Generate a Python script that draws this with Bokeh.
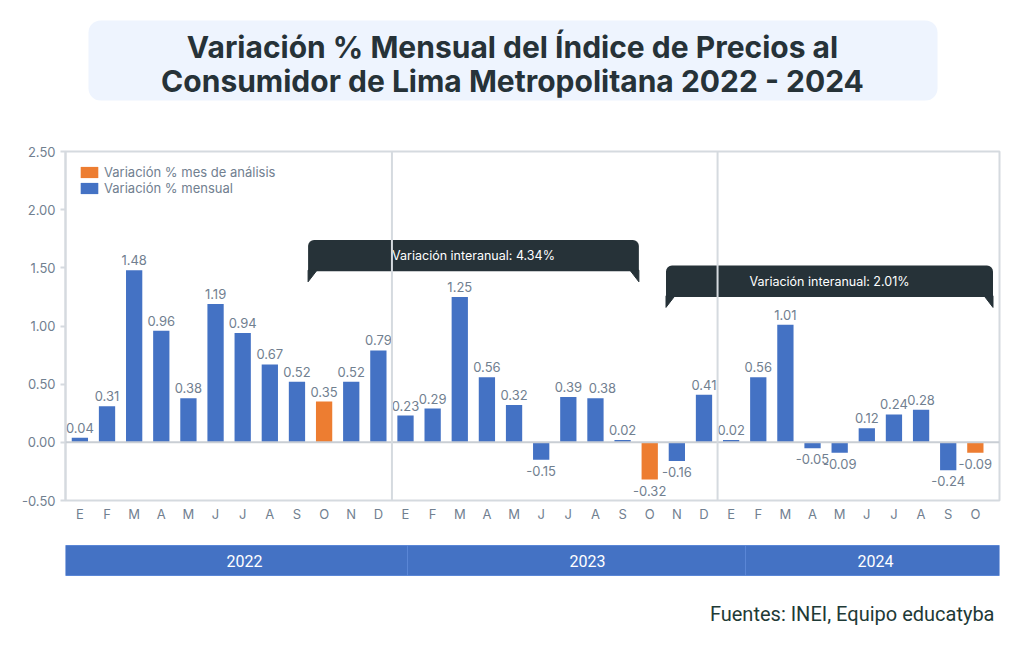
from bokeh.plotting import figure
from bokeh.layouts import column
from bokeh.models import Range1d, FixedTicker, ColumnDataSource, Legend, LegendItem, Span, NumeralTickFormatter
from bokeh.core.properties import value
from bokeh.embed import file_html
from bokeh.resources import INLINE

# ---------------- data ----------------
years = ["2022", "2023", "2024"]
months = ["E", "F", "M", "A", "M", "J", "J", "A", "S", "O", "N", "D"]
v2022 = [0.04, 0.31, 1.48, 0.96, 0.38, 1.19, 0.94, 0.67, 0.52, 0.35, 0.52, 0.79]
v2023 = [0.23, 0.29, 1.25, 0.56, 0.32, -0.15, 0.39, 0.38, 0.02, -0.32, -0.16, 0.41]
v2024 = [0.02, 0.56, 1.01, -0.05, -0.09, 0.12, 0.24, 0.28, -0.24, -0.09]
analysis_month = "O"
interanual_labels = ["Variación interanual: 4.34%", "Variación interanual: 2.01%"]
y_ticks = [-0.5, 0.0, 0.5, 1.0, 1.5, 2.0, 2.5]

title_lines = ["Variación % Mensual del Índice de Precios al",
               "Consumidor de Lima Metropolitana 2022 - 2024"]
source_text = "Fuentes: INEI, Equipo educatyba"
legend_labels = ["Variación % mes de análisis", "Variación % mensual"]

BLUE = "#4472C4"
ORANGE = "#ED7D31"
GRAY_TXT = "#718090"
LINE = "#D5DADF"
DARK = "#263238"
FONT = "Inter"

all_vals = v2022 + v2023 + v2024
all_month = (months + months + months[:len(v2024)])
xs = list(range(len(all_vals)))
is_hl = [(i % 12) == months.index(analysis_month) for i in xs]

# nudge a label sideways when it would collide with its left neighbour
nudge = [0] + [7 if abs(all_vals[i] - all_vals[i - 1]) < 0.02 else 0 for i in xs[1:]]

hl = dict(x=[x for x, h in zip(xs, is_hl) if h], top=[v for v, h in zip(all_vals, is_hl) if h])
nm = dict(x=[x for x, h in zip(xs, is_hl) if not h], top=[v for v, h in zip(all_vals, is_hl) if not h])
pos = dict(x=[x for x, v in zip(xs, all_vals) if v >= 0],
           y=[v for v in all_vals if v >= 0],
           t=["%.2f" % v for v in all_vals if v >= 0],
           dx=[d for d, v in zip(nudge, all_vals) if v >= 0])
neg = dict(x=[x for x, v in zip(xs, all_vals) if v < 0],
           y=[v for v in all_vals if v < 0],
           t=["%.2f" % v for v in all_vals if v < 0],
           dx=[d for d, v in zip(nudge, all_vals) if v < 0])

BL, BR = 65, 25   # borders shared by all stacked figures (frames are aligned)
PX = Range1d(BL, 1024 - BR)  # page-pixel x range for title/band figures

# ---------------- title ----------------
t = figure(width=1024, height=120, x_range=PX, y_range=Range1d(120, 0),
           output_backend="svg", toolbar_location=None,
           min_border_left=BL, min_border_right=BR, min_border_top=0, min_border_bottom=0,
           x_axis_location=None, y_axis_location=None)
t.grid.visible = False
t.outline_line_color = None
t.quad(left=[88], right=[937], top=[20], bottom=[100], fill_color="#EEF4FE",
       line_color=None, border_radius=12)
t.text(x=[512, 512], y=[46, 80], text=title_lines, text_align="center", text_baseline="middle",
       text_font=value(FONT), text_font_style="bold", text_font_size="30px", text_color=DARK)

# ---------------- main chart ----------------
p = figure(width=1024, height=410, x_range=Range1d(-0.53, 33.89), y_range=Range1d(-0.5, 2.5),
           output_backend="svg", toolbar_location=None,
           min_border_left=BL, min_border_right=BR, min_border_top=31, min_border_bottom=30)
p.xgrid.visible = False
p.ygrid.visible = False
p.outline_line_color = LINE
p.outline_line_width = 2

p.yaxis.ticker = FixedTicker(ticks=y_ticks)
p.yaxis.formatter = NumeralTickFormatter(format="0.00")
p.yaxis.axis_line_color = LINE
p.yaxis.axis_line_width = 2
p.yaxis.major_tick_line_color = LINE
p.yaxis.major_tick_line_width = 2
p.yaxis.major_tick_in = 0
p.yaxis.major_tick_out = 5
p.yaxis.minor_tick_line_color = None
p.yaxis.major_label_standoff = 5
p.yaxis.major_label_text_color = GRAY_TXT
p.yaxis.major_label_text_font = FONT
p.yaxis.major_label_text_font_size = "13px"

p.xaxis.ticker = FixedTicker(ticks=xs)
p.xaxis.major_label_overrides = {x: m for x, m in zip(xs, all_month)}
p.xaxis.axis_line_color = None
p.xaxis.major_tick_line_color = None
p.xaxis.minor_tick_line_color = None
p.xaxis.major_tick_in = 0
p.xaxis.major_tick_out = 0
p.xaxis.major_label_standoff = 5
p.xaxis.major_label_text_color = GRAY_TXT
p.xaxis.major_label_text_font = FONT
p.xaxis.major_label_text_font_size = "13px"

# zero line and year separators
p.add_layout(Span(location=0, dimension="width", line_color="#C9CED4", line_width=2))
for k in range(1, len(years)):
    p.add_layout(Span(location=12 * k - 0.5, dimension="height", line_color=LINE, line_width=2))

r_nm = p.vbar(x="x", top="top", bottom=0, width=0.6, source=ColumnDataSource(nm),
              fill_color=BLUE, line_color=None)
r_hl = p.vbar(x="x", top="top", bottom=0, width=0.6, source=ColumnDataSource(hl),
              fill_color=ORANGE, line_color=None)

p.text(x="x", y="y", text="t", source=ColumnDataSource(pos), text_align="center",
       text_baseline="bottom", x_offset="dx", y_offset=-5, text_font=value(FONT),
       text_font_size="13px", text_color=GRAY_TXT)
p.text(x="x", y="y", text="t", source=ColumnDataSource(neg), text_align="center",
       text_baseline="top", x_offset="dx", y_offset=6, text_font=value(FONT),
       text_font_size="13px", text_color=GRAY_TXT)

# interannual callouts
callouts = [(8.41, 20.6, 1.74), (21.6, 33.65, 1.52)]
bh = 0.27   # box height (units)
th = 0.09   # tail height
tw = 0.33   # tail width
for (l, r, top), lab in zip(callouts, interanual_labels):
    p.quad(left=[l], right=[r], top=[top], bottom=[top - bh], fill_color=DARK, line_color=None,
           border_radius=dict(top_left=6, top_right=6, bottom_right=0, bottom_left=0))
    p.patches(xs=[[l, l, l + tw], [r, r, r - tw]],
              ys=[[top - bh + 0.01, top - bh - th, top - bh + 0.01],
                  [top - bh + 0.01, top - bh - th, top - bh + 0.01]],
              fill_color=DARK, line_color=DARK, line_width=1)
    p.text(x=[(l + r) / 2], y=[top - bh / 2], text=[lab], text_align="center",
           text_baseline="middle", text_font=value(FONT), text_font_size="12.5px",
           text_color="white")

legend = Legend(items=[LegendItem(label=legend_labels[0], renderers=[r_hl]),
                       LegendItem(label=legend_labels[1], renderers=[r_nm])],
                location=(13, 349 - 14 - 31), orientation="vertical",
                glyph_width=22, glyph_height=14, label_height=13, spacing=0,
                label_standoff=4, padding=0, margin=0,
                background_fill_alpha=0, border_line_color=None,
                label_text_font=FONT, label_text_font_size="13px", label_text_color=GRAY_TXT)
p.add_layout(legend)

# ---------------- year band & source ----------------
b = figure(width=1024, height=116, x_range=PX, y_range=Range1d(116, 0),
           output_backend="svg", toolbar_location=None,
           min_border_left=BL, min_border_right=BR, min_border_top=0, min_border_bottom=0,
           x_axis_location=None, y_axis_location=None)
b.grid.visible = False
b.outline_line_color = None
band_edges = [65, 407, 745, 999]
year_label_x = [244, 587, 875]
b.quad(left=band_edges[:-1], right=band_edges[1:], top=15, bottom=45,
       fill_color=BLUE, line_color="#5A86D6", line_width=1)
b.text(x=year_label_x, y=[30] * len(years),
       text=years, text_align="center", text_baseline="middle",
       text_font=value("Roboto"), text_font_size="16px", text_color="white")
b.text(x=[994], y=[83], text=[source_text], text_align="right", text_baseline="middle",
       text_font=value("Roboto"), text_font_size="20px", text_color="#1E3A36")

layout = column(t, p, b, spacing=0)
open("out.html", "w").write(file_html(layout, INLINE))
